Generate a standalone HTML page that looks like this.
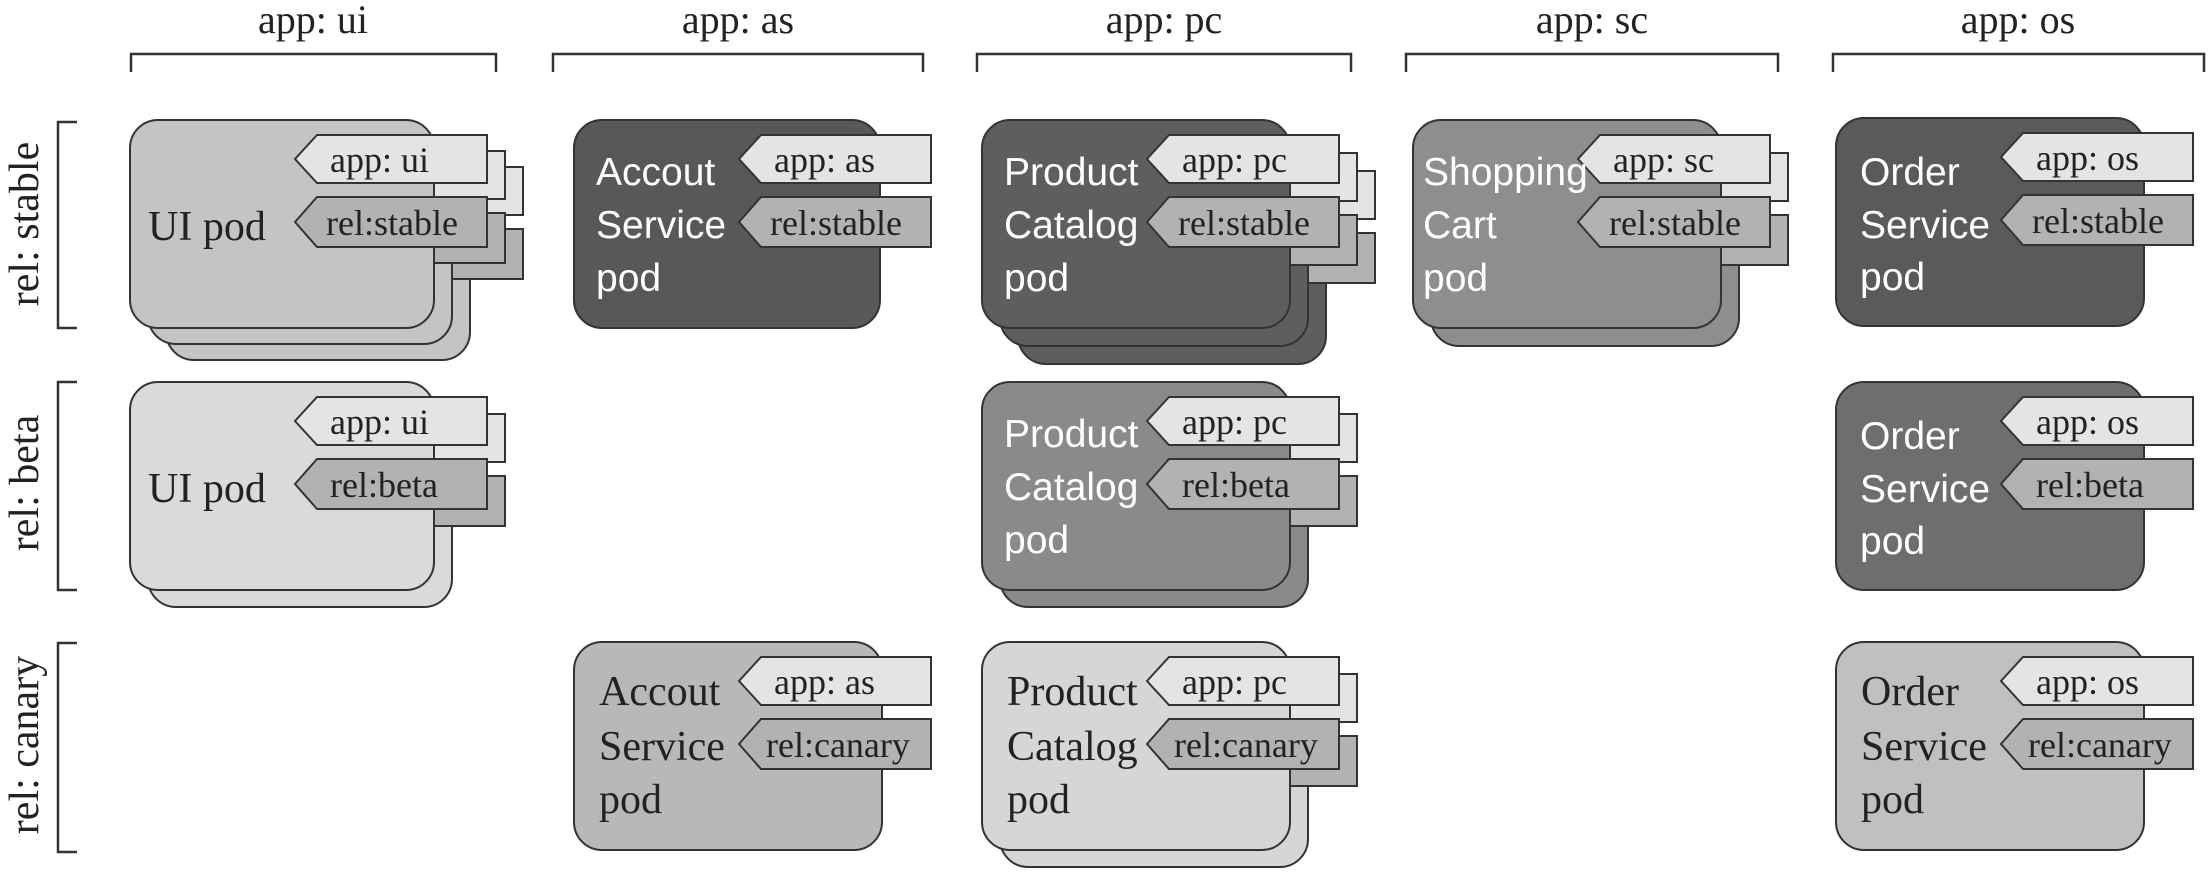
<!DOCTYPE html>
<html><head><meta charset="utf-8"><style>
html,body{margin:0;padding:0;background:#fff;}
svg{display:block;}
.h{font-family:"Liberation Serif",serif;font-size:40px;fill:#222;text-anchor:middle;}
.s{font-family:"Liberation Serif",serif;font-size:42px;fill:#222;text-anchor:middle;}
.t{font-family:"Liberation Serif",serif;font-size:36px;fill:#222;}
.ps{font-family:"Liberation Serif",serif;font-size:42px;fill:#222;}
.pw{font-family:"Liberation Sans",sans-serif;font-size:39px;fill:#fff;}
.b{fill:none;stroke:#333;stroke-width:2.5;}
.tg{stroke:#333;stroke-width:2;}
.bx{stroke:#333;stroke-width:2;}
</style></head><body>
<svg width="2210" height="876" viewBox="0 0 2210 876" xmlns="http://www.w3.org/2000/svg">
<defs>
<g id="tags">
<polygon class="tg" fill="#e4e4e4" points="165,39 187,15 357,15 357,63 187,63"/>
<polygon class="tg" fill="#b2b2b2" points="165,102 187,77 357,77 357,127 187,127"/>
</g>
</defs>
<text class="h" x="313" y="33">app: ui</text>
<text class="h" x="738" y="33">app: as</text>
<text class="h" x="1164" y="33">app: pc</text>
<text class="h" x="1592" y="33">app: sc</text>
<text class="h" x="2018" y="33">app: os</text>
<path class="b" d="M131,72V54H496V72"/>
<path class="b" d="M553,72V54H923V72"/>
<path class="b" d="M977,72V54H1351V72"/>
<path class="b" d="M1406,72V54H1778V72"/>
<path class="b" d="M1833,72V54H2204V72"/>
<text class="s" transform="translate(38,224) rotate(-90)">rel: stable</text>
<text class="s" transform="translate(38,483) rotate(-90)">rel: beta</text>
<text class="s" transform="translate(38,745) rotate(-90)">rel: canary</text>
<path class="b" d="M77,122H58V328H77"/>
<path class="b" d="M77,382H58V590H77"/>
<path class="b" d="M77,643H58V852H77"/>

<g transform="translate(166,152)"><rect class="bx" width="304" height="208" rx="28" fill="#c4c4c4"/><use href="#tags"/></g>
<g transform="translate(148,136)"><rect class="bx" width="304" height="208" rx="28" fill="#c4c4c4"/><use href="#tags"/></g>
<g transform="translate(130,120)"><rect class="bx" width="304" height="208" rx="28" fill="#c4c4c4"/><use href="#tags"/>
<text class="ps" x="18" y="120">UI pod</text><text class="t" x="200" y="52">app: ui</text><text class="t" x="196" y="115">rel:stable</text></g>
<g transform="translate(574,120)"><rect class="bx" width="306" height="208" rx="28" fill="#585858"/><use href="#tags"/>
<text class="pw" x="22" y="65">Accout</text><text class="pw" x="22" y="118">Service</text><text class="pw" x="22" y="171">pod</text>
<text class="t" x="200" y="52">app: as</text><text class="t" x="196" y="115">rel:stable</text></g>
<g transform="translate(1018,156)"><rect class="bx" width="308" height="208" rx="28" fill="#5e5e5e"/><use href="#tags"/></g>
<g transform="translate(1000,138)"><rect class="bx" width="308" height="208" rx="28" fill="#5e5e5e"/><use href="#tags"/></g>
<g transform="translate(982,120)"><rect class="bx" width="308" height="208" rx="28" fill="#5e5e5e"/><use href="#tags"/>
<text class="pw" x="22" y="65">Product</text><text class="pw" x="22" y="118">Catalog</text><text class="pw" x="22" y="171">pod</text>
<text class="t" x="200" y="52">app: pc</text><text class="t" x="196" y="115">rel:stable</text></g>
<g transform="translate(1431,138)"><rect class="bx" width="308" height="208" rx="28" fill="#8e8e8e"/><use href="#tags"/></g>
<g transform="translate(1413,120)"><rect class="bx" width="308" height="208" rx="28" fill="#8e8e8e"/><use href="#tags"/>
<text class="pw" x="10" y="65">Shopping</text><text class="pw" x="10" y="118">Cart</text><text class="pw" x="10" y="171">pod</text>
<text class="t" x="200" y="52">app: sc</text><text class="t" x="196" y="115">rel:stable</text></g>
<g transform="translate(1836,118)"><rect class="bx" width="308" height="208" rx="28" fill="#5a5a5a"/><use href="#tags"/>
<text class="pw" x="24" y="67">Order</text><text class="pw" x="24" y="120">Service</text><text class="pw" x="24" y="172">pod</text>
<text class="t" x="200" y="52">app: os</text><text class="t" x="196" y="115">rel:stable</text></g>

<g transform="translate(148,399)"><rect class="bx" width="304" height="208" rx="28" fill="#dadada"/><use href="#tags"/></g>
<g transform="translate(130,382)"><rect class="bx" width="304" height="208" rx="28" fill="#dadada"/><use href="#tags"/>
<text class="ps" x="18" y="120">UI pod</text><text class="t" x="200" y="52">app: ui</text><text class="t" x="200" y="115">rel:beta</text></g>
<g transform="translate(1000,399)"><rect class="bx" width="308" height="208" rx="28" fill="#8a8a8a"/><use href="#tags"/></g>
<g transform="translate(982,382)"><rect class="bx" width="308" height="208" rx="28" fill="#8a8a8a"/><use href="#tags"/>
<text class="pw" x="22" y="65">Product</text><text class="pw" x="22" y="118">Catalog</text><text class="pw" x="22" y="171">pod</text>
<text class="t" x="200" y="52">app: pc</text><text class="t" x="200" y="115">rel:beta</text></g>
<g transform="translate(1836,382)"><rect class="bx" width="308" height="208" rx="28" fill="#6e6e6e"/><use href="#tags"/>
<text class="pw" x="24" y="67">Order</text><text class="pw" x="24" y="120">Service</text><text class="pw" x="24" y="172">pod</text>
<text class="t" x="200" y="52">app: os</text><text class="t" x="200" y="115">rel:beta</text></g>

<g transform="translate(574,642)"><rect class="bx" width="308" height="208" rx="28" fill="#b8b8b8"/><use href="#tags"/>
<text class="ps" x="25" y="63">Accout</text><text class="ps" x="25" y="118">Service</text><text class="ps" x="25" y="171">pod</text>
<text class="t" x="200" y="52">app: as</text><text class="t" x="192" y="115">rel:canary</text></g>
<g transform="translate(1000,659)"><rect class="bx" width="308" height="208" rx="28" fill="#d6d6d6"/><use href="#tags"/></g>
<g transform="translate(982,642)"><rect class="bx" width="308" height="208" rx="28" fill="#d6d6d6"/><use href="#tags"/>
<text class="ps" x="25" y="63">Product</text><text class="ps" x="25" y="118">Catalog</text><text class="ps" x="25" y="171">pod</text>
<text class="t" x="200" y="52">app: pc</text><text class="t" x="192" y="115">rel:canary</text></g>
<g transform="translate(1836,642)"><rect class="bx" width="308" height="208" rx="28" fill="#c0c0c0"/><use href="#tags"/>
<text class="ps" x="25" y="63">Order</text><text class="ps" x="25" y="118">Service</text><text class="ps" x="25" y="171">pod</text>
<text class="t" x="200" y="52">app: os</text><text class="t" x="192" y="115">rel:canary</text></g>
</svg>
</body></html>
